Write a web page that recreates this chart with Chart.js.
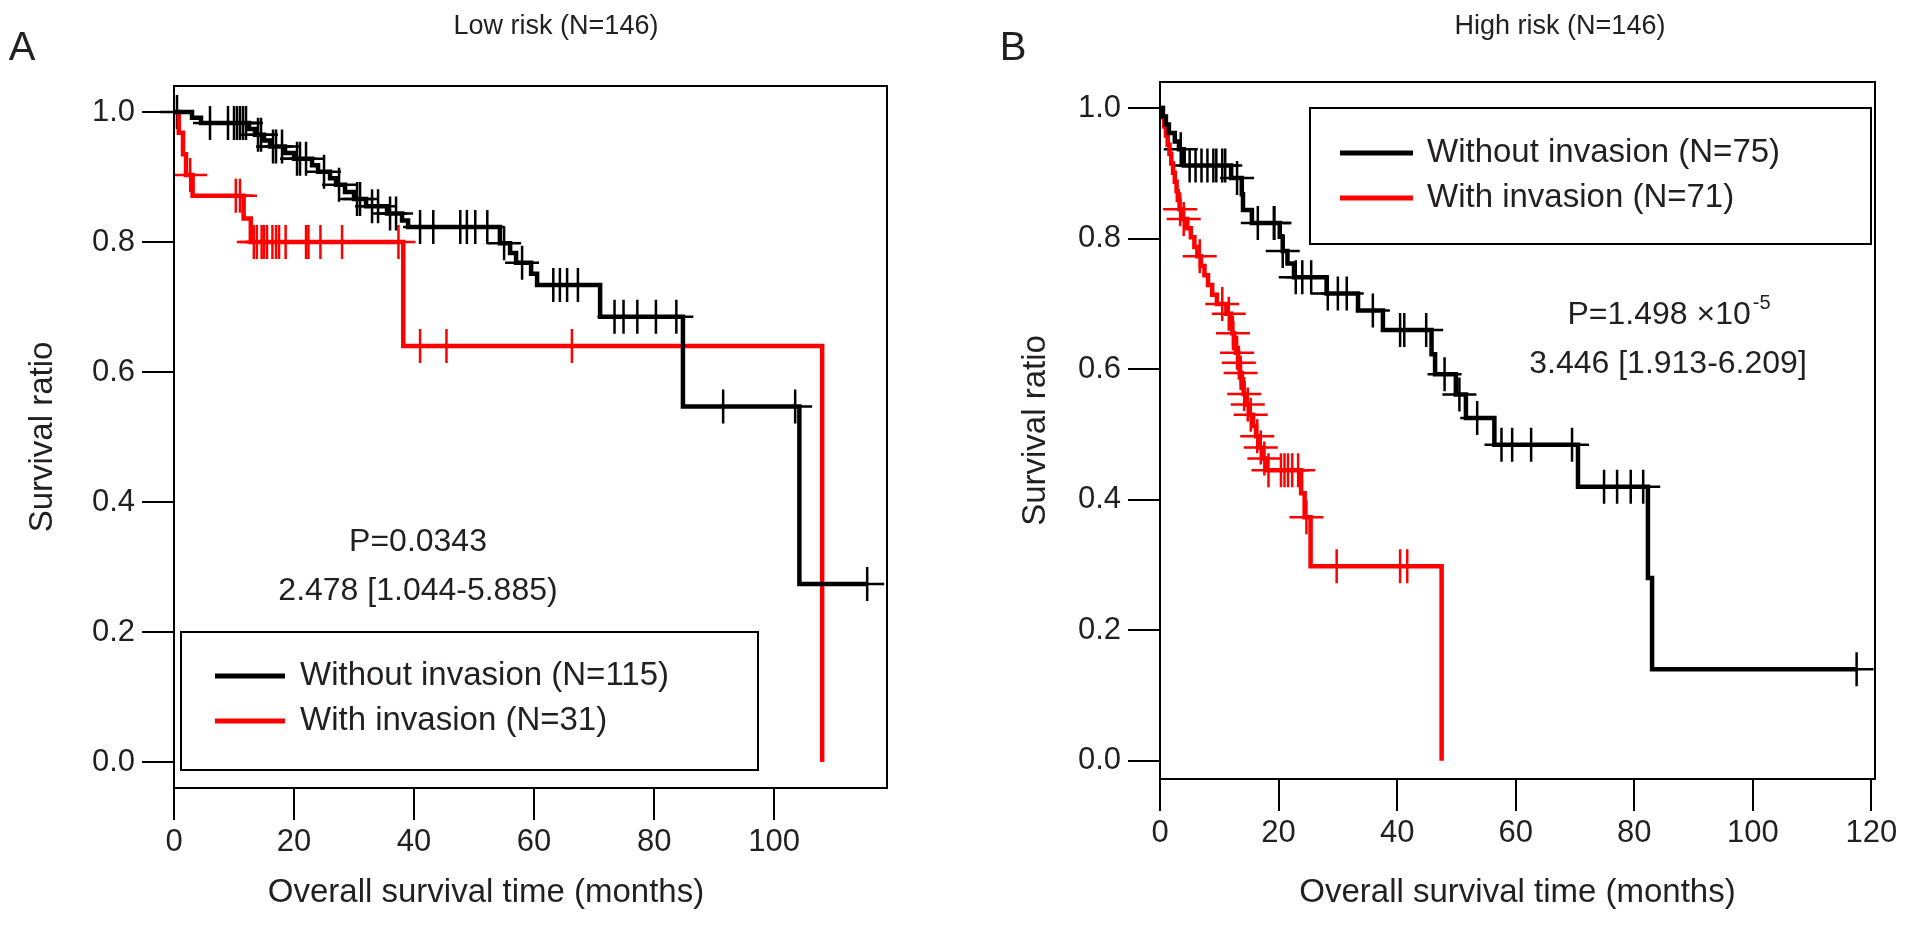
<!DOCTYPE html>
<html>
<head>
<meta charset="utf-8">
<script src="https://cdn.jsdelivr.net/npm/chart.js@4.4.1/dist/chart.umd.min.js"></script>
<style>
    html, body { margin: 0; padding: 0; background: #fff; }
    #wrapA { position: absolute; left: 0; top: 0; width: 940px; height: 925px; }
    #wrapB { position: absolute; left: 960px; top: 0; width: 953px; height: 925px; }
</style>
</head>
<body>
<div id="wrapA"><canvas id="lowChart"></canvas></div>
<div id="wrapB"><canvas id="highChart"></canvas></div>
<script>
// tick labels
const yTicks = [0, 0.2, 0.4, 0.6, 0.8, 1.0];
const xTicksLow = [0, 20, 40, 60, 80, 100];
const xTicksHigh = [0, 20, 40, 60, 80, 100, 120];

// Low risk, without invasion (N=115): event times (months) and survival after each event
const lowNoInvEventT = [3.0, 4.5, 12.5, 13.5, 15.0, 16.0, 18.5, 20.0, 23.0, 24.0, 26.0, 27.0, 28.5, 30.0, 32.0, 35.5, 38.0, 39.0, 54.3, 56.0, 57.0, 59.5, 60.5, 71.0, 84.8, 104.2];
const lowNoInvEventS = [0.991, 0.983, 0.974, 0.965, 0.956, 0.947, 0.937, 0.928, 0.918, 0.908, 0.898, 0.888, 0.877, 0.866, 0.855, 0.844, 0.833, 0.823, 0.798, 0.783, 0.768, 0.751, 0.734, 0.685, 0.547, 0.274];
const lowNoInvCensorT = [0.5, 6, 9, 10, 10.5, 11, 11.5, 12, 14, 14.5, 16.5, 17, 18, 20.5, 21, 22, 25, 27.5, 30.5, 31, 33, 34, 36, 37, 41, 43.2, 47.7, 48.8, 50.2, 52.2, 55, 58, 63.2, 64.3, 65.5, 67.3, 73.4, 74.9, 77.2, 80.3, 83.7, 91.5, 103.5, 115.5];

// Low risk, with invasion (N=31)
const lowInvEventT = [0.8, 1.5, 2.0, 3.1, 11.6, 12.8, 38.2, 108.0];
const lowInvEventS = [0.968, 0.935, 0.903, 0.871, 0.836, 0.800, 0.640, 0.0];
const lowInvCensorT = [2.7, 10.3, 11.0, 13.3, 13.8, 14.6, 15.0, 15.5, 16.4, 17.0, 17.5, 18.6, 22.0, 22.4, 24.4, 28.0, 37.4, 41.0, 45.4, 66.3];

// High risk, without invasion (N=75)
const highNoInvEventT = [0.5, 1.0, 1.5, 2.5, 3.2, 4.0, 12.0, 13.8, 14.0, 15.5, 20.2, 20.7, 21.5, 22.6, 28.1, 33.4, 37.6, 45.8, 46.4, 49.9, 51.6, 56.4, 70.5, 82.3, 83.0];
const highNoInvEventS = [0.987, 0.975, 0.962, 0.949, 0.937, 0.912, 0.893, 0.868, 0.844, 0.824, 0.803, 0.781, 0.762, 0.741, 0.716, 0.690, 0.660, 0.623, 0.592, 0.561, 0.525, 0.484, 0.420, 0.280, 0.140];
const highNoInvCensorT = [3.5, 5.0, 6.0, 7.0, 8.0, 9.0, 9.5, 10.5, 11.0, 13.0, 16.5, 19.2, 19.3, 20.7, 22.9, 24.0, 25.5, 28.3, 30.0, 31.5, 35.9, 40.5, 41.2, 44.9, 48.0, 50.5, 53.5, 57.6, 59.4, 62.6, 69.5, 74.9, 77.1, 79.4, 81.5, 117.5];

// High risk, with invasion (N=71)
const highInvEventT = [0.4, 0.7, 1.0, 1.3, 1.6, 1.9, 2.2, 2.5, 2.8, 3.0, 3.3, 3.9, 4.6, 5.2, 5.8, 6.3, 6.9, 7.5, 8.1, 8.8, 9.6, 11.2, 12.0, 12.2, 12.5, 12.8, 13.2, 13.5, 13.8, 14.1, 14.5, 15.1, 15.7, 16.2, 16.8, 17.4, 18.0, 23.8, 24.4, 25.4, 47.5];
const highInvEventS = [0.986, 0.972, 0.958, 0.944, 0.930, 0.915, 0.901, 0.887, 0.873, 0.859, 0.845, 0.830, 0.816, 0.802, 0.787, 0.773, 0.758, 0.744, 0.729, 0.714, 0.700, 0.685, 0.670, 0.655, 0.640, 0.625, 0.610, 0.594, 0.578, 0.562, 0.546, 0.530, 0.513, 0.497, 0.480, 0.463, 0.445, 0.410, 0.373, 0.298, 0.0];
const highInvCensorT = [3.4, 4.0, 6.7, 10.5, 11.6, 12.3, 13.0, 13.3, 13.6, 14.2, 14.8, 15.3, 16.4, 17.0, 17.6, 18.3, 20.4, 21.0, 21.6, 22.3, 23.3, 24.7, 29.8, 40.5, 41.7];

const FONT = '"Liberation Sans", Arial, Helvetica, sans-serif';
const TEXT = '#231f20';
const RED = '#ff0000';
const BLACK = '#000000';
const X_TITLE = 'Overall survival time (months)';

// survival value at time t from the step function
function survAt(times, surv, t) {
    let s = 1;
    for (let i = 0; i < times.length; i++) {
        if (times[i] <= t) s = surv[i];
    }
    return s;
}

function curvePoints(times, surv, censors) {
    const pts = [{ x: 0, y: 1 }];
    times.forEach((t, i) => pts.push({ x: t, y: surv[i] }));
    const lastEvent = times[times.length - 1];
    const lastCensor = censors[censors.length - 1];
    if (lastCensor > lastEvent) pts.push({ x: lastCensor, y: surv[surv.length - 1] });
    return pts;
}

function censorPoints(times, surv, censors) {
    return censors.map(t => ({ x: t, y: survAt(times, surv, t) }));
}

function curveSet(label, color, times, surv, censors) {
    return {
        type: 'line',
        label: label,
        isCurve: true,
        data: curvePoints(times, surv, censors),
        borderColor: color,
        borderWidth: 4.5,
        stepped: 'before',
        pointRadius: 0,
        fill: false,
        borderJoinStyle: 'miter'
    };
}

function censorSet(color, times, surv, censors) {
    return {
        type: 'scatter',
        data: censorPoints(times, surv, censors),
        showLine: false,
        pointStyle: 'cross',
        pointRadius: 17,
        borderWidth: 2.5,
        borderColor: color,
        clip: false
    };
}

// frame, panel letter, title, statistics text and legend box
const decorPlugin = {
    id: 'decor',
    afterDraw(chart, args, opts) {
        const ctx = chart.ctx;
        const a = chart.chartArea;
        ctx.save();
        ctx.strokeStyle = '#000';
        ctx.lineWidth = 2;
        ctx.strokeRect(a.left, a.top, a.right - a.left, a.bottom - a.top);

        ctx.fillStyle = TEXT;
        ctx.textBaseline = 'middle';
        ctx.textAlign = 'center';
        ctx.font = '40px ' + FONT;
        ctx.fillText(opts.letter, opts.letterX, opts.letterY);
        ctx.font = '27px ' + FONT;
        ctx.fillText(opts.title, opts.titleX, opts.titleY);

        // x-axis title placed off-centre in panel A, as in the source figure
        if (opts.xTitleX) {
            ctx.font = '33px ' + FONT;
            ctx.fillText(X_TITLE, opts.xTitleX, opts.xTitleY);
        }

        opts.notes.forEach(n => {
            ctx.font = '32px ' + FONT;
            if (n.sup) {
                const w = ctx.measureText(n.text).width;
                ctx.font = '20px ' + FONT;
                const ws = ctx.measureText(n.sup).width;
                const x0 = n.x - (w + ws) / 2;
                ctx.textAlign = 'left';
                ctx.font = '32px ' + FONT;
                ctx.fillText(n.text, x0, n.y);
                ctx.font = '20px ' + FONT;
                ctx.fillText(n.sup, x0 + w + 2, n.y - 12);
            } else {
                ctx.textAlign = 'center';
                ctx.fillText(n.text, n.x, n.y);
            }
        });

        const lg = opts.legend;
        ctx.strokeStyle = '#000';
        ctx.lineWidth = 2;
        ctx.strokeRect(lg.left, lg.top, lg.width, lg.height);
        ctx.font = '33px ' + FONT;
        ctx.textAlign = 'left';
        chart.data.datasets.filter(d => d.isCurve).forEach((d, i) => {
            const y = lg.top + lg.firstRow + i * lg.rowGap;
            ctx.strokeStyle = d.borderColor;
            ctx.lineWidth = 5;
            ctx.beginPath();
            ctx.moveTo(lg.left + lg.lineFrom, y);
            ctx.lineTo(lg.left + lg.lineTo, y);
            ctx.stroke();
            ctx.fillStyle = TEXT;
            ctx.fillText(d.label, lg.left + lg.textAt, y);
        });
        ctx.restore();
    }
};

function makeOptions(cfg) {
    return {
        responsive: true,
        maintainAspectRatio: false,
        animation: false,
        layout: { padding: { top: cfg.padTop, right: cfg.padRight, left: 0, bottom: 0 } },
        scales: {
            x: {
                type: 'linear',
                min: 0,
                max: cfg.xMax,
                afterFit: s => { s.height = cfg.xAxisHeight; },
                afterBuildTicks: s => { s.ticks = cfg.xTicks.map(v => ({ value: v })); },
                grid: { drawOnChartArea: false, drawTicks: true, tickLength: 32, color: '#000', lineWidth: 2 },
                border: { display: true, color: '#000', width: 2 },
                ticks: { color: TEXT, font: { family: FONT, size: 31 }, padding: 4, maxRotation: 0, autoSkip: false },
                title: { display: !cfg.decor.xTitleX, text: X_TITLE, color: TEXT, font: { family: FONT, size: 33 }, padding: { top: 0, bottom: 12 } }
            },
            y: {
                type: 'linear',
                min: cfg.yMin,
                max: 1.04,
                afterFit: s => { s.width = cfg.yAxisWidth; },
                afterBuildTicks: s => { s.ticks = yTicks.map(v => ({ value: v })); },
                grid: { drawOnChartArea: false, drawTicks: true, tickLength: 32, color: '#000', lineWidth: 2 },
                border: { display: true, color: '#000', width: 2 },
                ticks: { color: TEXT, font: { family: FONT, size: 31 }, padding: 7, callback: v => v.toFixed(1) },
                title: { display: true, text: 'Survival ratio', color: TEXT, font: { family: FONT, size: 33 }, padding: { top: cfg.yTitlePad, bottom: 0 } }
            }
        },
        plugins: {
            legend: { display: false },
            tooltip: { enabled: false },
            decor: cfg.decor
        }
    };
}

document.addEventListener('DOMContentLoaded', function() {

    const lowCtx = document.getElementById('lowChart');
    new Chart(lowCtx, {
        type: 'line',
        data: {
            datasets: [
                curveSet('Without invasion (N=115)', BLACK, lowNoInvEventT, lowNoInvEventS, lowNoInvCensorT),
                curveSet('With invasion (N=31)', RED, lowInvEventT, lowInvEventS, lowInvCensorT),
                censorSet(BLACK, lowNoInvEventT, lowNoInvEventS, lowNoInvCensorT),
                censorSet(RED, lowInvEventT, lowInvEventS, lowInvCensorT)
            ]
        },
        options: makeOptions({
            padTop: 86, padRight: 53, xMax: 118.8, xAxisHeight: 137, yAxisWidth: 174,
            yMin: -0.04, yTitlePad: 23, xTicks: xTicksLow,
            decor: {
                letter: 'A', letterX: 22, letterY: 49,
                title: 'Low risk (N=146)', titleX: 556, titleY: 27,
                xTitleX: 486, xTitleY: 893,
                notes: [
                    { text: 'P=0.0343', x: 418, y: 542 },
                    { text: '2.478 [1.044-5.885)', x: 418, y: 591 }
                ],
                legend: { left: 181, top: 632, width: 577, height: 138, firstRow: 44, rowGap: 45, lineFrom: 34, lineTo: 104, textAt: 119 }
            }
        }),
        plugins: [decorPlugin]
    });

    const highCtx = document.getElementById('highChart');
    new Chart(highCtx, {
        type: 'line',
        data: {
            datasets: [
                curveSet('Without invasion (N=75)', BLACK, highNoInvEventT, highNoInvEventS, highNoInvCensorT),
                curveSet('With invasion (N=71)', RED, highInvEventT, highInvEventS, highInvCensorT),
                censorSet(BLACK, highNoInvEventT, highNoInvEventS, highNoInvCensorT),
                censorSet(RED, highInvEventT, highInvEventS, highInvCensorT)
            ]
        },
        options: makeOptions({
            padTop: 82, padRight: 38, xMax: 120.6, xAxisHeight: 146, yAxisWidth: 200,
            yMin: -0.028, yTitlePad: 56, xTicks: xTicksHigh,
            decor: {
                letter: 'B', letterX: 53, letterY: 49,
                title: 'High risk (N=146)', titleX: 600, titleY: 27,
                notes: [
                    { text: 'P=1.498 \u00d710', sup: '-5', x: 708, y: 315 },
                    { text: '3.446 [1.913-6.209]', x: 708, y: 364 }
                ],
                legend: { left: 350, top: 108, width: 561, height: 136, firstRow: 45, rowGap: 45, lineFrom: 30, lineTo: 103, textAt: 117 }
            }
        }),
        plugins: [decorPlugin]
    });

});
</script>
</body>
</html>
